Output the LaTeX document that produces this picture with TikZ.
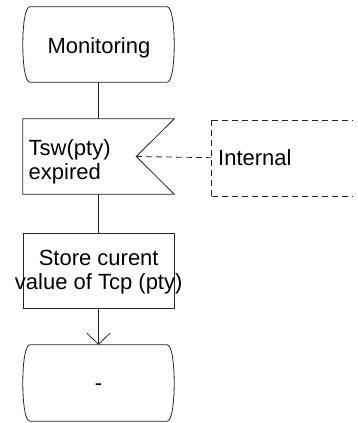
\documentclass[tikz,border=0pt]{standalone}
\usepackage{fontspec}
\setmainfont{Liberation Sans}
\usetikzlibrary{arrows.meta}
\begin{document}
\begin{tikzpicture}[x=1pt,y=-1pt,
  ln/.style={line width=0.8pt,draw=black!85},
  frame/.style={inner sep=0pt,minimum width=151pt,minimum height=75pt},
  txt/.style={inner sep=0pt,font=\fontsize{22}{24}\selectfont},
  dsh/.style={ln,dash pattern=on 6pt off 4pt},
  statepath/.style={ln}]
\useasboundingbox (0,0) rectangle (358,423);
% state: Monitoring
\node[frame] (mon) at (98.5,44.5) {};
\node[txt,anchor=base] (montxt) at (98.9,53.3) {Monitoring};
\draw[statepath] ([xshift=7pt]mon.north west) -- ([xshift=-7pt]mon.north east)
  .. controls +(5,0.5) and +(0,-18) .. (mon.east)
  .. controls +(0,18) and +(5,-0.5) .. ([xshift=-7pt]mon.south east)
  -- ([xshift=7pt]mon.south west)
  .. controls +(-5,-0.5) and +(0,18) .. (mon.west)
  .. controls +(0,-18) and +(-5,0.5) .. cycle;
% input signal
\node[frame] (sig) at (98.5,156.5) {};
\coordinate (tip) at ([xshift=-38pt]sig.east);
\draw[ln] (sig.north west) -- (sig.north east) -- (tip) -- (sig.south east) -- (sig.south west) -- cycle;
\node[txt,align=left,anchor=west] (sigtxt) at (28.5,162.3) {Tsw(pty)\\expired};
% comment box (open to the right)
\coordinate (extL) at (211.5,157.7);
\coordinate (extTR) at (352,120);
\coordinate (extBR) at (352,196);
\draw[dsh] (211.5,120) -- (extTR);
\draw[dsh] (211.5,120) -- (211.5,196);
\draw[dsh] (211.5,196) -- (extBR);
\draw[dsh] (tip) -- (extL);
\node[txt,anchor=base west] (ext) at (218,165) {Internal};
% task
\node[frame,ln,draw] (task) at (98.5,270.5) {};
\node[txt,align=center] (tasktxt) at (98.7,272.3) {Store curent\\value of Tcp (pty)};
% next state
\node[frame,minimum height=76pt] (nxt) at (98.5,383) {};
\draw[statepath] ([xshift=7pt]nxt.north west) -- ([xshift=-7pt]nxt.north east)
  .. controls +(5,0.5) and +(0,-18) .. (nxt.east)
  .. controls +(0,18) and +(5,-0.5) .. ([xshift=-7pt]nxt.south east)
  -- ([xshift=7pt]nxt.south west)
  .. controls +(-5,-0.5) and +(0,18) .. (nxt.west)
  .. controls +(0,-18) and +(-5,0.5) .. cycle;
\node[txt,anchor=base] (nxttxt) at (98.5,390) {-};
% connectors
\draw[ln] (mon.south) -- (sig.north);
\draw[ln] (sig.south) -- (task.north);
\draw[ln,-{Straight Barb[length=11pt,width=23pt]}] (task.south) -- (nxt.north);
\end{tikzpicture}
\end{document}
